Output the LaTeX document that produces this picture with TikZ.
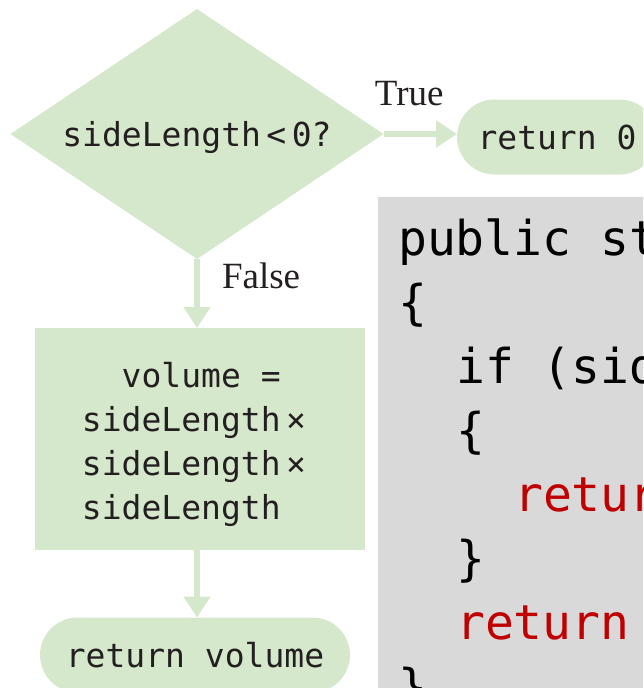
\documentclass[tikz,border=0pt]{standalone}
\usepackage{fontspec}
\setmainfont{Liberation Serif}
\newfontfamily\flowmono{DejaVu Sans Mono}
\usetikzlibrary{shapes.geometric,shapes.misc,arrows.meta,positioning}
\definecolor{flowgreen}{RGB}{214,232,203}
\definecolor{codegrey}{RGB}{217,217,217}
\definecolor{codered}{RGB}{192,0,0}
\definecolor{inkgrey}{RGB}{35,31,32}
\begin{document}
\begin{tikzpicture}[x=1pt,y=-1pt,>={Triangle[width=26pt,length=21pt]}]
  \tikzset{
    flowtext/.style={font=\flowmono\fontsize{33}{44}\selectfont, text=inkgrey},
    decision/.style={diamond, aspect=1.5, fill=flowgreen, inner sep=0pt, outer sep=0pt, minimum width=373pt, minimum height=250pt, text depth=0pt, flowtext},
    terminal/.style={rounded rectangle, fill=flowgreen, inner sep=0pt, outer sep=0pt, minimum height=75pt, flowtext},
    process/.style={rectangle, fill=flowgreen, inner sep=0pt, outer sep=0pt, minimum width=330pt, minimum height=222pt, align=left, flowtext},
    flow/.style={->, draw=flowgreen, fill=flowgreen, line width=6pt},
    lbl/.style={inner sep=0pt, font=\fontsize{37}{44}\selectfont, text=inkgrey},
    codeline/.style={anchor=base west, inner sep=0pt, font=\flowmono\fontsize{48}{64}\selectfont, text=black},
    keyword/.style={codeline, text=codered}
  }
  \useasboundingbox (0,0) rectangle (643,688);
  \clip (0,0) rectangle (643,688);

  % flowchart
  \node[decision] (cond) at (197,134) {sideLength\,<\,0?};
  \node[terminal, minimum width=200pt, anchor=west] (retzero) at (457,137) {return 0};
  \node[process] (volbox) at (200,439) {\rule{0pt}{37pt}\hphantom{si}volume =\\sideLength\,×\hspace*{12pt}\null\\sideLength\,×\\sideLength};
  \node[terminal, minimum width=310pt] (retvol) at (195,655) {return volume};

  \draw[flow] (cond.east) -- (cond.east -| retzero.west)
    node[lbl, pos=0.35, above=25pt] (truelbl) {True};
  \draw[flow] (cond.south) -- (cond.south |- volbox.north)
    node[lbl, pos=0.25, right=22pt] (falselbl) {False};
  \draw[flow] (volbox.south -| cond.south) -- (cond.south |- retvol.north);

  % code listing
  \fill[codegrey] (378,197) rectangle (700,720);
  \node[codeline] (ln1) at (398,255) {public st};
  \node[codeline] (ln2) at (398,319) {\{};
  \node[codeline] (ln3) at (456,383) {if (sid};
  \node[codeline] (ln4) at (456,447) {\{};
  \node[keyword] (ln5) at (514,511) {retur};
  \node[codeline] (ln6) at (456,575) {\}};
  \node[keyword] (ln7) at (456,639) {return};
  \node[codeline] (ln8) at (398,703) {\}};
\end{tikzpicture}
\end{document}
